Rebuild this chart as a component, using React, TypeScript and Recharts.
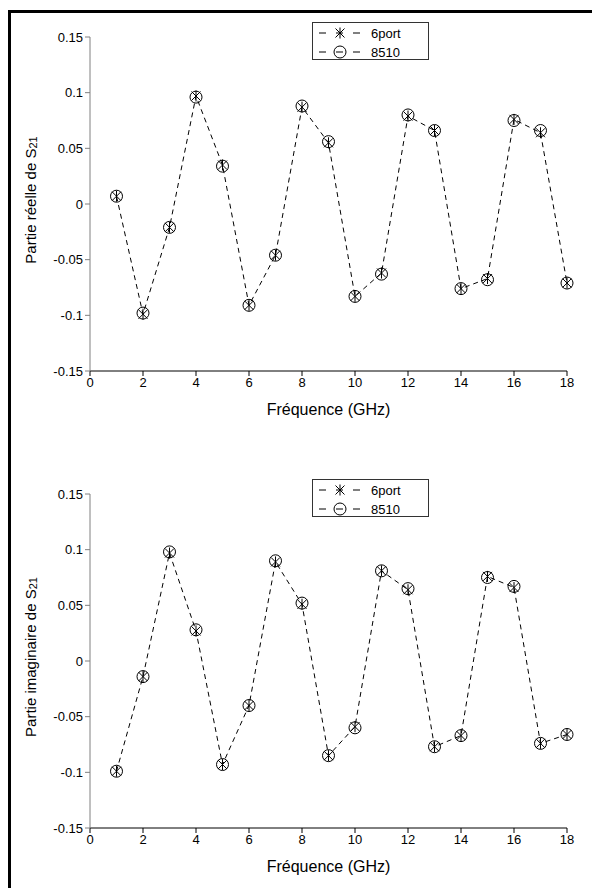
import { LineChart, Line, XAxis, YAxis, Legend, Label } from 'recharts'

// Fréquence (GHz)
const freq = [1, 2, 3, 4, 5, 6, 7, 8, 9, 10, 11, 12, 13, 14, 15, 16, 17, 18]

// Partie réelle de S21
const reel6port = [0.007, -0.099, -0.021, 0.097, 0.035, -0.091, -0.046, 0.087, 0.055, -0.083, -0.062, 0.079, 0.066, -0.076, -0.067, 0.076, 0.064, -0.071]
const reel8510 = [0.007, -0.098, -0.021, 0.096, 0.034, -0.091, -0.046, 0.088, 0.056, -0.083, -0.063, 0.080, 0.066, -0.076, -0.068, 0.075, 0.066, -0.071]

// Partie imaginaire de S21
const imag6port = [-0.099, -0.014, 0.097, 0.027, -0.093, -0.040, 0.089, 0.051, -0.085, -0.059, 0.081, 0.064, -0.077, -0.067, 0.076, 0.066, -0.074, -0.066]
const imag8510 = [-0.099, -0.014, 0.098, 0.028, -0.093, -0.040, 0.090, 0.052, -0.085, -0.060, 0.081, 0.065, -0.077, -0.067, 0.075, 0.067, -0.074, -0.066]

const xTicks = [0, 2, 4, 6, 8, 10, 12, 14, 16, 18]
const yTicks = [-0.15, -0.1, -0.05, 0, 0.05, 0.1, 0.15]
const seriesNames = ['6port', '8510']

const FONT = '"Liberation Sans", Arial, sans-serif'

function StarDot(props: any) {
  const { cx, cy } = props
  if (cx == null || cy == null) return null
  const r = 4.5
  return (
    <g stroke="#000" strokeWidth={1}>
      <line x1={cx - r} y1={cy - r} x2={cx + r} y2={cy + r} />
      <line x1={cx - r} y1={cy + r} x2={cx + r} y2={cy - r} />
      <line x1={cx} y1={cy - r - 1} x2={cx} y2={cy + r + 1} />
    </g>
  )
}

function CircleDot(props: any) {
  const { cx, cy } = props
  if (cx == null || cy == null) return null
  return <circle cx={cx} cy={cy} r={6} fill="none" stroke="#000" strokeWidth={1} />
}

function LegendBox({ payload }: any) {
  const items = payload || []
  return (
    <div style={{ width: 115, height: 36, border: '1px solid #333', background: '#fff', fontFamily: FONT, fontSize: 13 }}>
      <svg width={115} height={36}>
        {items.map((it: any, i: number) => {
          const y = 10 + i * 19
          return (
            <g key={i}>
              <line x1={6} y1={y} x2={47} y2={y} stroke="#000" strokeDasharray="7 10" />
              {i === 0 ? <StarDot cx={27} cy={y} /> : <CircleDot cx={27} cy={y} />}
              <text x={58} y={y} dominantBaseline="central" fontSize={13} fill="#000">{it.value}</text>
            </g>
          )
        })}
      </svg>
    </div>
  )
}

function YTitle({ viewBox, text }: any) {
  const cx = 30
  const cy = viewBox.y + viewBox.height / 2 - 4
  return (
    <text
      x={cx}
      y={cy}
      transform={`rotate(-90 ${cx} ${cy})`}
      textAnchor="middle"
      dominantBaseline="central"
      fontSize={15}
      fontFamily={FONT}
      fill="#000"
    >
      {text}S<tspan fontSize={11} dy={3}>21</tspan>
    </text>
  )
}

function S21Chart({ s6, s8, title }: { s6: number[]; s8: number[]; title: string }) {
  const data = freq.map((f, i) => ({ f, a: s6[i], b: s8[i] }))
  return (
    <LineChart width={592} height={457} data={data} margin={{ top: 37, right: 25, left: 40, bottom: 56 }}>
      <XAxis
        dataKey="f"
        type="number"
        domain={[0, 18]}
        ticks={xTicks}
        height={30}
        tickSize={5}
        stroke="#000"
        tick={{ fontSize: 13, fill: '#000', fontFamily: FONT }}
      >
        <Label value="Fréquence (GHz)" position="bottom" offset={3} fontSize={16} fill="#000" fontFamily={FONT} />
      </XAxis>
      <YAxis
        type="number"
        domain={[-0.15, 0.15]}
        ticks={yTicks}
        width={50}
        tickSize={5}
        stroke="#808080"
        allowDataOverflow
        tickFormatter={(v: number) => String(Number(v.toFixed(2)))}
        tick={{ fontSize: 13, fill: '#000', fontFamily: FONT }}
      >
        <Label content={(p: any) => <YTitle {...p} text={title} />} />
      </YAxis>
      <Legend
        verticalAlign="middle"
        align="center"
        layout="horizontal"
        content={<LegendBox />}
        wrapperStyle={{ position: 'absolute', left: 312, top: 22, width: 117, height: 38 }}
      />
      <Line
        dataKey="b"
        name={seriesNames[1]}
        stroke="none"
        dot={<CircleDot />}
        activeDot={false}
        isAnimationActive={false}
      />
      <Line
        dataKey="a"
        name={seriesNames[0]}
        stroke="#000"
        strokeWidth={1}
        strokeDasharray="5 4"
        dot={<StarDot />}
        activeDot={false}
        isAnimationActive={false}
      />
    </LineChart>
  )
}

export default function App() {
  return (
    <div style={{ position: 'absolute', left: 0, top: 0, width: 592, height: 888, background: '#fff', overflow: 'hidden' }}>
      <div style={{ position: 'absolute', left: 8, top: 10, width: 700, height: 900, borderTop: '3px solid #000', borderLeft: '3px solid #000' }} />
      <div style={{ position: 'absolute', left: 0, top: 0 }}>
        <S21Chart s6={reel6port} s8={reel8510} title="Partie réelle de " />
      </div>
      <div style={{ position: 'absolute', left: 0, top: 457 }}>
        <S21Chart s6={imag6port} s8={imag8510} title="Partie imaginaire de " />
      </div>
    </div>
  )
}
